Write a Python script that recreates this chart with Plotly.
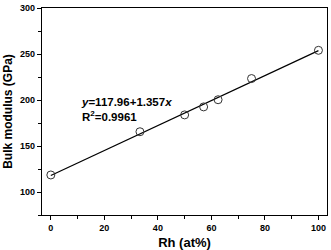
import plotly.graph_objects as go

rh = [0, 33.3, 50, 57.1, 62.5, 75, 100]
bulk = [118.5, 165.5, 183.8, 192.5, 200.3, 223.3, 254.0]
fit_x = [0, 100]
intercept = 117.96
slope = 1.357
fit_y = [intercept + slope * v for v in fit_x]

x_ticks = [0, 20, 40, 60, 80, 100]
y_ticks = [100, 150, 200, 250, 300]

FONT = "Liberation Sans, Arial, sans-serif"

fig = go.Figure()
fig.add_trace(go.Scatter(x=fit_x, y=fit_y, mode="lines",
                         line=dict(color="black", width=1.2), showlegend=False))
fig.add_trace(go.Scatter(x=rh, y=bulk, mode="markers",
                         marker=dict(symbol="circle-open", size=8, color="#333333",
                                     line=dict(width=1)),
                         showlegend=False))

fig.add_annotation(x=0.13, y=0.512, xref="paper", yref="paper", xanchor="left", yanchor="middle",
                   align="left",
                   text="<b><i>y</i>=117.96+1.357<i>x</i></b><br><b>R<sup>2</sup>=0.9961</b>",
                   showarrow=False,
                   font=dict(family=FONT, size=11.5, color="black"))

axis_common = dict(showgrid=False, zeroline=False, showline=True, linecolor="black",
                   linewidth=1.3, mirror=True, ticks="outside", ticklen=4,
                   tickwidth=1, tickcolor="black",
                   tickfont=dict(family=FONT, size=9, color="black"))

fig.update_xaxes(range=[-3.3, 103.2], tickvals=x_ticks,
                 ticktext=[f"<b>{v}</b>" for v in x_ticks],
                 minor=dict(ticks="outside", ticklen=3, tickcolor="black", dtick=10, tick0=0),
                 title=dict(text="<b>Rh (at%)</b>", font=dict(family=FONT, size=13, color="black"),
                            standoff=5),
                 **axis_common)
fig.update_yaxes(range=[75, 300], tickvals=y_ticks,
                 ticktext=[f"<b>{v}</b>" for v in y_ticks],
                 minor=dict(ticks="outside", ticklen=3, tickcolor="black", dtick=25, tick0=0),
                 title=dict(text="<b>Bulk modulus (GPa)</b>", font=dict(family=FONT, size=12, color="black"),
                            standoff=4),
                 **axis_common)

fig.update_layout(width=331, height=250, margin=dict(l=42, r=3, t=6, b=35),
                  paper_bgcolor="white", plot_bgcolor="white",
                  font=dict(family=FONT, color="black"))

fig.write_html("out.html", config={"displayModeBar": False},
               post_script="document.body.style.margin='0';document.body.style.overflow='hidden';")
